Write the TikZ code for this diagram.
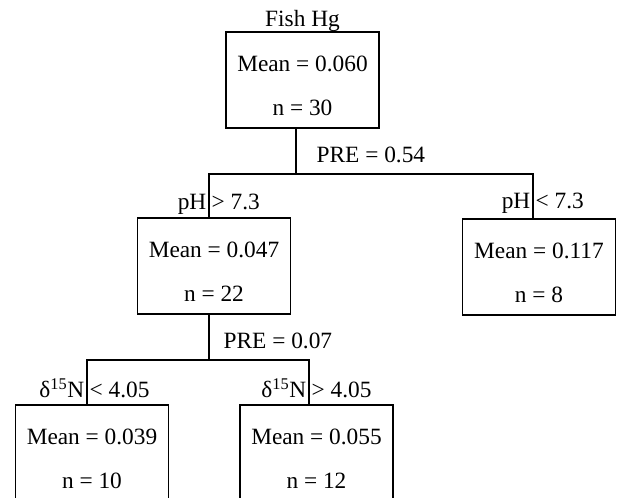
\documentclass[tikz,border=0pt]{standalone}
\usepackage{fontspec}
\setmainfont{Liberation Serif}
\begin{document}
\begin{tikzpicture}[x=0.75pt,y=-0.75pt,line width=1pt,line cap=butt,line join=miter,
                    font=\fontsize{17.5pt}{33pt}\selectfont,
                    nodebox/.style={draw,rectangle,inner sep=0pt,align=center,
                                    minimum width=114.75pt,minimum height=72pt},
                    splitlbl/.style={inner sep=1.5pt}]
  \path[use as bounding box] (0,0) rectangle (618,498);   % canvas 618x498 px
  \clip (0,0) rectangle (618,498);                         % bottom boxes run off the page
  % ---- boxes (centres in px) ----
  \node[nodebox] (root)  at (302.5, 80) {\rule{0pt}{21pt}Mean = 0.060\\n = 30};
  \node[nodebox] (gt73)  at (214.0,266) {\rule{0pt}{21pt}Mean = 0.047\\n = 22};
  \node[nodebox] (lt73)  at (539.0,267) {\rule{0pt}{21pt}Mean = 0.117\\n = 8};
  \node[nodebox] (lowd)  at ( 92.0,453) {\rule{0pt}{21pt}Mean = 0.039\\n = 10};
  \node[nodebox] (highd) at (316.5,453) {\rule{0pt}{21pt}Mean = 0.055\\n = 12};
  % ---- split points ----
  \coordinate (s1)  at (296,174);
  \coordinate (s1l) at (209,174);
  \coordinate (s1r) at (533,174);
  \coordinate (s2)  at (209,360);
  \coordinate (s2l) at ( 87,360);
  \coordinate (s2r) at (309,360);
  % ---- connectors ----
  \draw (root.south -| s1) -- (s1);
  \draw (gt73.north -| s1l) -- (s1l) -- (s1r) -- (lt73.north -| s1r);
  \draw (gt73.south -| s2) -- (s2);
  \draw (lowd.north -| s2l) -- (s2l) -- (s2r) -- (highd.north -| s2r);
  % ---- labels ----
  \node[anchor=base,inner sep=0pt] (title) at (302.5,27) {Fish Hg};
  \node[anchor=base west,inner sep=0pt] (pre1) at (316,163) {PRE = 0.54};
  \node[anchor=base west,inner sep=0pt] (pre2) at (223,349) {PRE = 0.07};
  \node[splitlbl,anchor=base east] (phA)  at (209,210) {pH};
  \node[splitlbl,anchor=base west] (phB)  at (209,210) {> 7.3};
  \node[splitlbl,anchor=base east] (phC)  at (533,209) {pH};
  \node[splitlbl,anchor=base west] (phD)  at (533,209) {< 7.3};
  \node[splitlbl,anchor=base east] (dnA)  at ( 87,398) {δ\textsuperscript{15}N};
  \node[splitlbl,anchor=base west] (dnB)  at ( 87,398) {< 4.05};
  \node[splitlbl,anchor=base east] (dnC)  at (309,398) {δ\textsuperscript{15}N};
  \node[splitlbl,anchor=base west] (dnD)  at (309,398) {> 4.05};
\end{tikzpicture}
\end{document}
